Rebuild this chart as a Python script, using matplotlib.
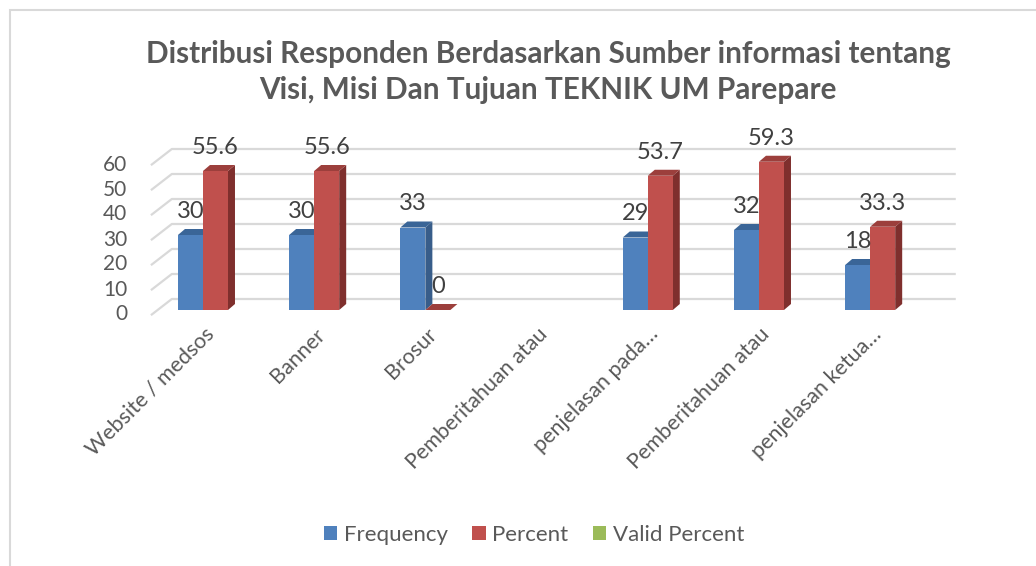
import numpy as np
import matplotlib.pyplot as plt
from matplotlib.patches import Polygon, Rectangle, Patch

# data
kategori = ["Website / medsos", "Banner", "Brosur", "Pemberitahuan atau",
            "penjelasan pada…", "Pemberitahuan atau", "penjelasan ketua…"]
frequency = [30, 30, 33, None, 29, 32, 18]
percent = [55.6, 55.6, 0, None, 53.7, 59.3, 33.3]
valid_percent = [None] * 7
y_ticks = [0, 10, 20, 30, 40, 50, 60]

judul = ("Distribusi Responden Berdasarkan Sumber informasi tentang\n"
         "Visi, Misi Dan Tujuan TEKNIK UM Parepare")

plt.rcParams['font.family'] = ['Lato', 'DejaVu Sans']
abu = '#595959'

W, H = 1036, 566
fig = plt.figure(figsize=(W / 100, H / 100), dpi=100)

# frame of the chart (light gray, cut on right/bottom)
fig.patches.append(Rectangle((10 / W, -0.1), 1.2, (H - 10) / H + 0.1,
                             transform=fig.transFigure, fill=False,
                             edgecolor='#d9d9d9', linewidth=1.5))

ax = fig.add_axes([141.8 / W, (H - 320) / H, 834 / W, 190 / H])
ax.set_xlim(-0.55, 6.95)
ax.set_ylim(-4, 72)
ax.axis('off')

# 3d look
dx, dy = 0.063, 2.4
lebar = 0.225

# gridlines (floor diagonal + back wall)
for t in y_ticks:
    ax.plot([-0.46, -0.28, 6.76], [t - 1.8, t + 4.4, t + 4.4],
            color='#d9d9d9', linewidth=1.6, zorder=1)
    ax.text(-0.68, t - 1.8, str(t), ha='right', va='center',
            fontsize=15, color=abu)


def bar3d(x0, h, warna_depan, warna_atas, warna_samping):
    x1 = x0 + lebar
    ax.add_patch(Polygon([(x1, 0), (x1 + dx, dy), (x1 + dx, h + dy), (x1, h)],
                         closed=True, facecolor=warna_samping,
                         edgecolor='none', zorder=3))
    ax.add_patch(Polygon([(x0, h), (x1, h), (x1 + dx, h + dy), (x0 + dx, h + dy)],
                         closed=True, facecolor=warna_atas,
                         edgecolor='none', zorder=3))
    ax.add_patch(Rectangle((x0, 0), lebar, h, facecolor=warna_depan,
                           edgecolor='none', zorder=3))


for i in range(len(kategori)):
    if frequency[i] is not None:
        bar3d(i - lebar, frequency[i], '#4f81bd', '#3a6597', '#385d8a')
        ax.text(i - lebar / 2, frequency[i] + 9.5, f"{frequency[i]:g}",
                ha='center', va='center', fontsize=17, color='#404040', zorder=5)
    if percent[i] is not None:
        bar3d(i, percent[i], '#c0504d', '#9c3f3c', '#7f2f2d')
        ax.text(i + lebar / 2, percent[i] + 9.5, f"{percent[i]:g}",
                ha='center', va='center', fontsize=17, color='#404040', zorder=5)

# category labels
for i, k in enumerate(kategori):
    ax.text(i + 0.07, -8.5, k, rotation=45, rotation_mode='anchor',
            ha='right', va='center', fontsize=15.5, color=abu)

fig.text(548 / W, 1 - 72 / H, judul, ha='center', va='center',
         fontsize=21.4, fontweight='bold', color=abu, linespacing=1.35)

handles = [Patch(facecolor='#4f81bd', label='Frequency'),
           Patch(facecolor='#c0504d', label='Percent'),
           Patch(facecolor='#9bbb59', label='Valid Percent')]
leg = fig.legend(handles=handles, loc='center', ncol=3,
                 bbox_to_anchor=(534 / W, 1 - 535 / H), frameon=False,
                 fontsize=16, handlelength=0.6, handleheight=0.6,
                 handletextpad=0.3, columnspacing=1.1)
for t in leg.get_texts():
    t.set_color(abu)

fig.savefig('out.png', dpi=100)
